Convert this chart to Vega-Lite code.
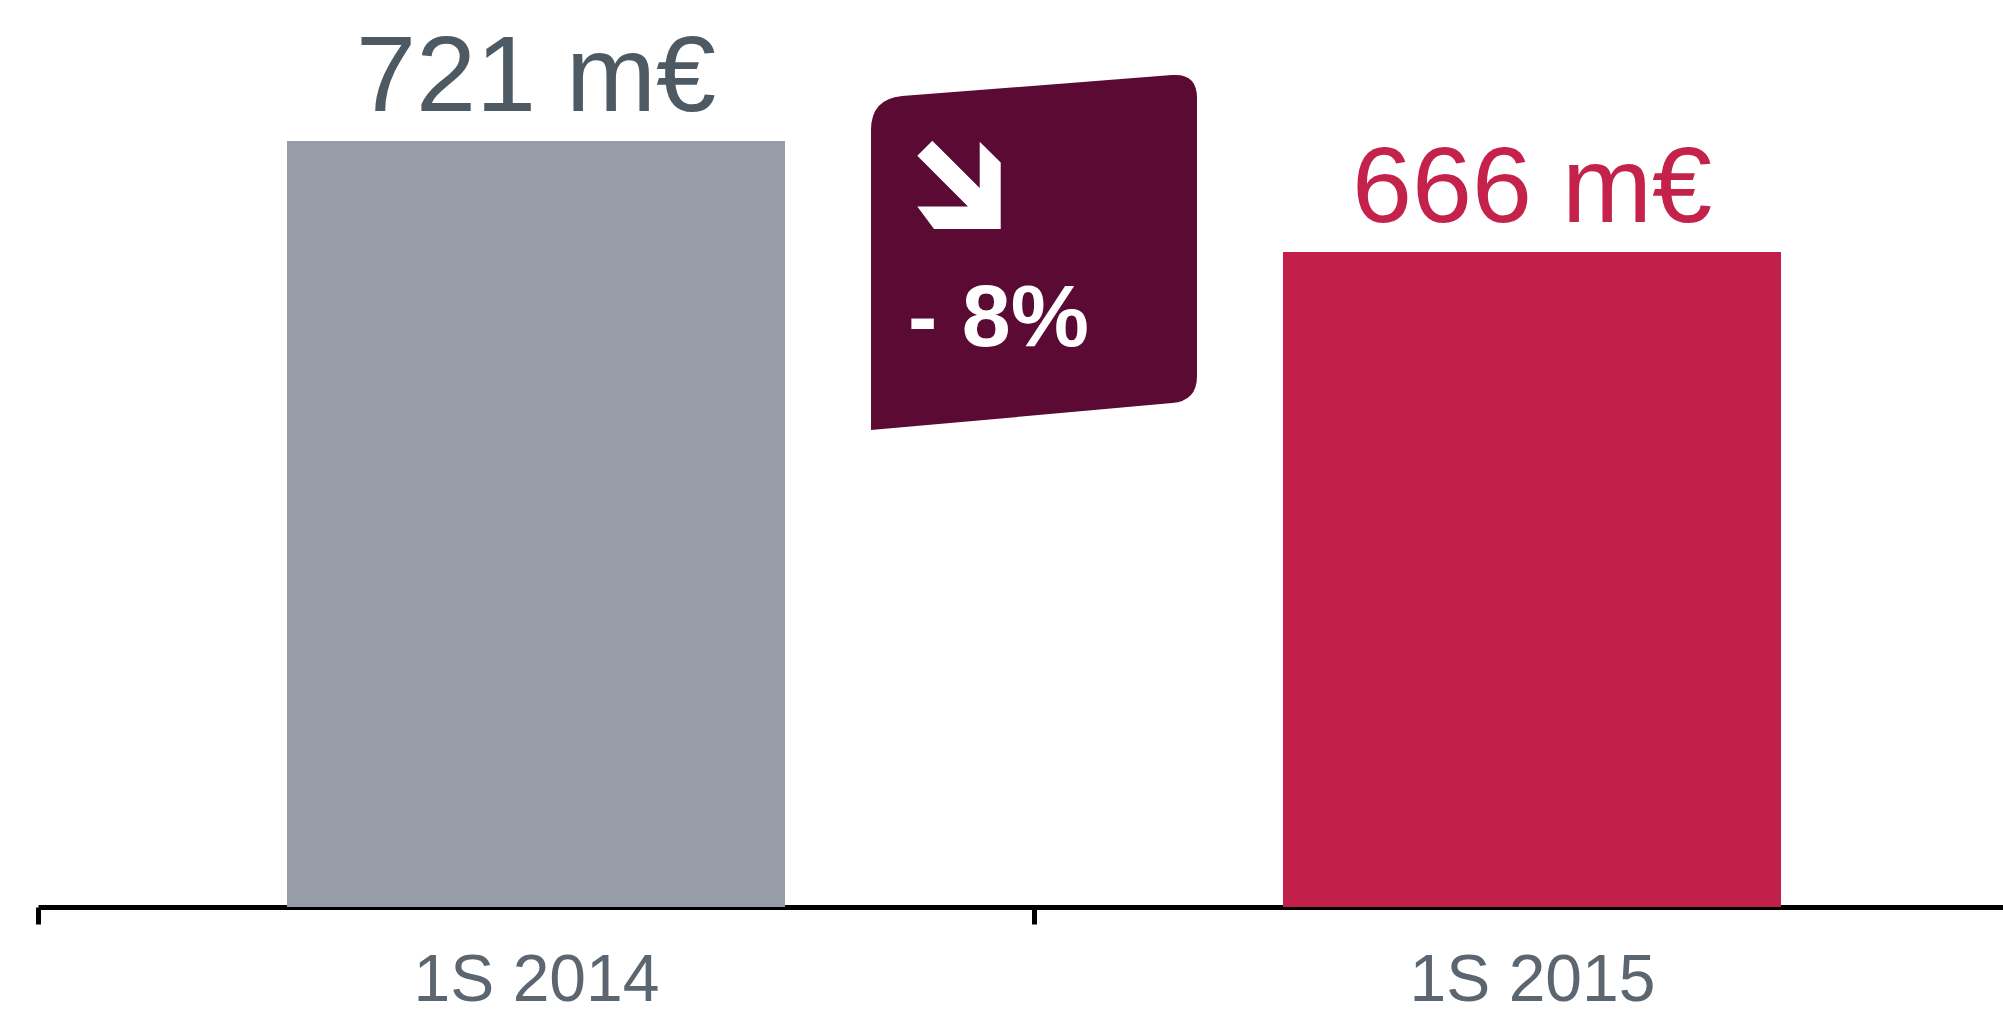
{
  "$schema": "https://vega.github.io/schema/vega-lite/v6.json",
  "width": 1965,
  "height": 907,
  "autosize": {"type": "none"},
  "padding": {"left": 38, "top": 0, "right": 0, "bottom": 110},
  "background": "white",
  "config": {"view": {"stroke": null}, "font": "Liberation Sans"},
  "datasets": {
    "bars": [
      {"period": "1S 2014", "value": 721, "label": "721 m€"},
      {"period": "1S 2015", "value": 666, "label": "666 m€"}
    ],
    "change": [
      {"from": "1S 2014", "to": "1S 2015", "ref": 666, "label": "- 8%"}
    ]
  },
  "encoding": {
    "y": {"type": "quantitative", "scale": {"domain": [341.5, 790.9], "zero": false, "nice": false, "clamp": true}, "axis": null}
  },
  "layer": [
    {
      "data": {"name": "bars"},
      "mark": {"type": "bar", "width": {"band": 0.5}},
      "encoding": {
        "x": {
          "field": "period", "type": "nominal", "sort": null,
          "scale": {"range": [0, 1992], "paddingInner": 0, "paddingOuter": 0},
          "axis": {
            "title": null, "labelAngle": 0, "grid": false,
            "domainColor": "#000000", "domainWidth": 5,
            "tickColor": "#000000", "tickWidth": 5, "tickSize": 17, "tickBand": "extent",
            "labelFontSize": 66, "labelColor": "#5C6670", "labelBaseline": "alphabetic", "labelPadding": 76,
            "labelFont": "Liberation Sans", "labelLimit": 0
          }
        },
        "y": {"field": "value"},
        "color": {"field": "period", "type": "nominal", "scale": {"domain": ["1S 2014", "1S 2015"], "range": ["#969DA7", "#C2204A"]}, "legend": null}
      }
    },
    {
      "data": {"name": "bars"},
      "mark": {"type": "text", "fontSize": 108, "baseline": "alphabetic", "dy": -30},
      "encoding": {
        "x": {"field": "period", "type": "nominal", "sort": null},
        "y": {"field": "value"},
        "text": {"field": "label"},
        "color": {"field": "period", "type": "nominal", "scale": {"domain": ["1S 2014", "1S 2015"], "range": ["#4E5A63", "#C4224A"]}, "legend": null}
      }
    },
    {
      "data": {"name": "change"},
      "mark": {"type": "point", "filled": true, "color": "#5A0A33", "opacity": 1, "strokeWidth": 0, "size": 40000,
        "shape": "M -1.63 1.78 L -1.63 -1.22 Q -1.63 -1.53 -1.32 -1.56 L 1.38 -1.77 Q 1.63 -1.79 1.63 -1.54 L 1.63 1.24 Q 1.63 1.49 1.38 1.51 Z"},
      "encoding": {
        "x": {"field": "to", "type": "nominal", "bandPosition": 0},
        "y": {"field": "ref"}
      }
    },
    {
      "data": {"name": "change"},
      "mark": {"type": "point", "filled": true, "color": "#FFFFFF", "opacity": 1, "strokeWidth": 0, "size": 40000,
        "shape": "M -1.017 -1.113 L -0.543 -0.64 L -0.543 -1.103 L -0.333 -0.897 L -0.333 -0.23 L -1.0 -0.23 L -1.167 -0.457 L -0.66 -0.457 L -1.167 -0.963 Z"},
      "encoding": {
        "x": {"field": "to", "type": "nominal", "bandPosition": 0},
        "y": {"field": "ref"}
      }
    },
    {
      "data": {"name": "change"},
      "mark": {"type": "text", "fontSize": 88, "fontWeight": "bold", "align": "left", "baseline": "alphabetic", "dx": -126, "dy": 94, "color": "#FFFFFF"},
      "encoding": {
        "x": {"field": "to", "type": "nominal", "bandPosition": 0},
        "y": {"field": "ref"},
        "text": {"field": "label"}
      }
    }
  ],
  "resolve": {"scale": {"color": "independent"}}
}
